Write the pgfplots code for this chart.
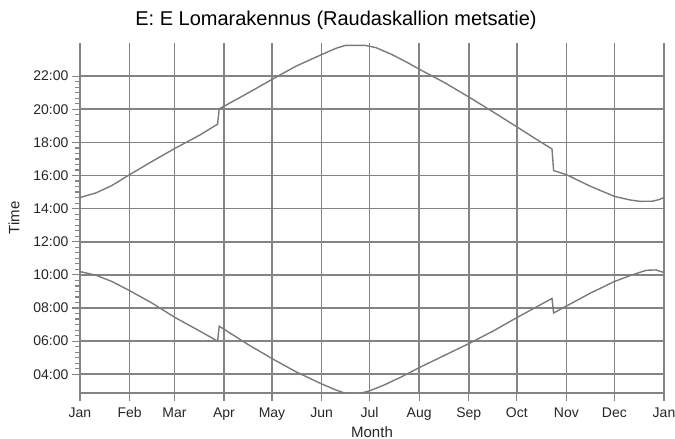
\documentclass[border=0pt]{standalone}
\usepackage{pgfplots}
\pgfplotsset{compat=1.18}
\usepackage{fontspec}
\setmainfont{Liberation Sans}
\definecolor{gridgray}{RGB}{132,132,132}
\definecolor{linegray}{RGB}{122,122,122}
\begin{document}
\begin{tikzpicture}
\begin{axis}[name=ax, scale only axis, width=584pt, height=350pt,
 xmin=0, xmax=365, ymin=2.87, ymax=24,
 axis lines*=left, axis line style={gridgray, line width=1.7pt, -},
 xtick={0,31,59,90,120,151,181,212,243,273,304,334,365},
 xticklabels={Jan,Feb,Mar,Apr,May,Jun,Jul,Aug,Sep,Oct,Nov,Dec,Jan},
 ytick={4,6,8,10,12,14,16,18,20,22},
 yticklabels={04:00,06:00,08:00,10:00,12:00,14:00,16:00,18:00,20:00,22:00},
 minor x tick num=4, minor y tick num=5,
 grid=major, major grid style={gridgray, line width=1.7pt},
 tick align=outside, major tick length=8pt, minor tick length=5pt,
 tick style={gridgray, line width=1.2pt},
 ticklabel style={font=\fontsize{14}{16}\selectfont, text=black!85},
 xticklabel style={yshift=-3pt},
 xlabel=Month, ylabel=Time,
 label style={font=\fontsize{15}{17}\selectfont, text=black!85},
 xlabel style={at={(axis description cs:0.5,-0.126)}, anchor=base},
 ylabel style={at={(axis description cs:-0.113,0.5)}, anchor=center},
 clip=true,
]
\addplot[linegray, line width=1.4pt, no marks] coordinates {
(0,14.67)(10,14.95)(20,15.4)(31,16.05)(45,16.85)(59,17.62)(75,18.45)(86,19.1)
(87,20.02)(90,20.18)(105,20.98)(120,21.8)(135,22.6)(151,23.3)(160,23.68)(166,23.86)
(178,23.86)(185,23.72)(195,23.3)(205,22.8)(212,22.42)(228,21.6)(243,20.74)(258,19.85)
(273,18.94)(285,18.2)(295,17.6)(296,16.3)(304,16.05)(319,15.35)(334,14.74)(344,14.52)
(350,14.44)(358,14.45)(362,14.55)(365,14.67)
};
\addplot[linegray, line width=1.4pt, no marks] coordinates {
(0,10.2)(10,9.98)(20,9.6)(31,9.05)(45,8.3)(59,7.45)(75,6.6)(86,6.0)
(87,6.9)(90,6.72)(105,5.8)(120,4.95)(135,4.15)(151,3.42)(160,3.05)(165,2.88)
(171,2.8)(177,2.9)(181,3.0)(190,3.35)(200,3.8)(212,4.4)(228,5.15)(243,5.85)
(258,6.6)(273,7.42)(285,8.05)(295,8.58)(296,7.7)(304,8.12)(319,8.9)(334,9.6)
(345,10.0)(354,10.28)(360,10.3)(363,10.2)(365,10.15)
};
\end{axis}
\node[anchor=base, font=\fontsize{20}{24}\selectfont] at ([xshift=256pt,yshift=17pt]ax.north west) {E: E Lomarakennus (Raudaskallion metsatie)};
\pgfresetboundingbox
\path[use as bounding box] ([xshift=-80pt,yshift=-46pt]ax.south west) rectangle ([xshift=11pt,yshift=43pt]ax.north east);
\end{tikzpicture}
\end{document}
